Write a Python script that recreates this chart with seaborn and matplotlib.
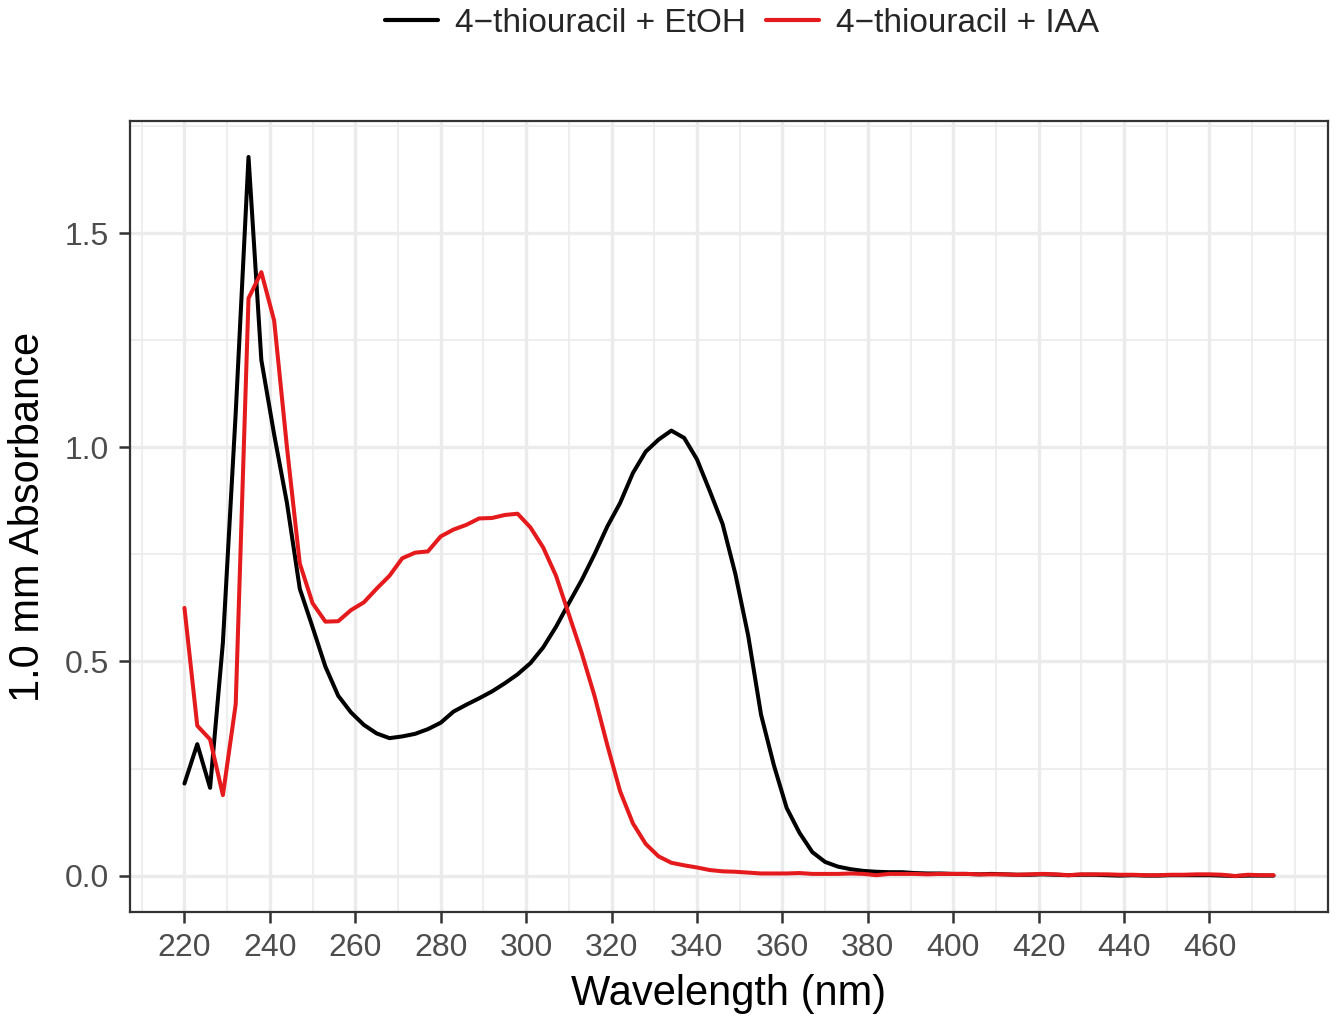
import numpy as np
import pandas as pd
import matplotlib
matplotlib.use("Agg")
import matplotlib.pyplot as plt
import seaborn as sns
from matplotlib.lines import Line2D
from matplotlib.ticker import MultipleLocator, FixedLocator

# wavelength grid (nm), 3 nm steps
wavelength = [220, 223, 226, 229, 232, 235, 238, 241, 244, 247,
              250, 253, 256, 259, 262, 265, 268, 271, 274, 277,
              280, 283, 286, 289, 292, 295, 298, 301, 304, 307,
              310, 313, 316, 319, 322, 325, 328, 331, 334, 337,
              340, 343, 346, 349, 352, 355, 358, 361, 364, 367,
              370, 373, 376, 379, 382, 385, 388, 391, 394, 397,
              400, 403, 406, 409, 412, 415, 418, 421, 424, 427,
              430, 433, 436, 439, 442, 445, 448, 451, 454, 457,
              460, 463, 466, 469, 472, 475]

# 4-thiouracil + EtOH
etoh = [0.215, 0.307, 0.205, 0.544, 1.08, 1.678, 1.204, 1.03, 0.87, 0.67,
        0.58, 0.488, 0.42, 0.381, 0.352, 0.332, 0.321, 0.325, 0.331, 0.342,
        0.357, 0.383, 0.399, 0.414, 0.43, 0.449, 0.47, 0.496, 0.533, 0.581,
        0.636, 0.69, 0.75, 0.815, 0.87, 0.94, 0.99, 1.018, 1.039, 1.022,
        0.972, 0.898, 0.821, 0.704, 0.56, 0.376, 0.258, 0.158, 0.1, 0.055,
        0.032, 0.021, 0.015, 0.011, 0.009, 0.008, 0.008, 0.006, 0.005, 0.005,
        0.004, 0.004, 0.003, 0.004, 0.003, 0.002, 0.002, 0.003, 0.002, 0.001,
        0.002, 0.002, 0.001, 0.0, 0.001, 0.0, 0.0, 0.001, 0.001, 0.001,
        0.001, 0.0, -0.001, 0.0, 0.0, 0.0]

# 4-thiouracil + IAA
iaa = [0.625, 0.35, 0.318, 0.188, 0.40, 1.348, 1.409, 1.296, 1.0, 0.729,
       0.636, 0.593, 0.594, 0.62, 0.638, 0.67, 0.70, 0.741, 0.754, 0.757,
       0.792, 0.808, 0.819, 0.834, 0.835, 0.842, 0.845, 0.813, 0.766, 0.70,
       0.61, 0.52, 0.42, 0.305, 0.197, 0.122, 0.074, 0.045, 0.03, 0.024,
       0.019, 0.013, 0.01, 0.009, 0.007, 0.005, 0.005, 0.005, 0.006, 0.004,
       0.004, 0.004, 0.005, 0.004, 0.001, 0.004, 0.004, 0.004, 0.003, 0.004,
       0.004, 0.004, 0.003, 0.003, 0.003, 0.002, 0.003, 0.004, 0.003, 0.001,
       0.003, 0.003, 0.003, 0.002, 0.002, 0.001, 0.001, 0.002, 0.002, 0.003,
       0.003, 0.002, -0.001, 0.002, 0.001, 0.001]

labels = ["4\u2212thiouracil + EtOH", "4\u2212thiouracil + IAA"]
colors = ["#000000", "#E41A1C"]
x_breaks = [220, 240, 260, 280, 300, 320, 340, 360, 380, 400, 420, 440, 460]

df = pd.concat([
    pd.DataFrame({"wl": wavelength, "abs": etoh, "sample": labels[0]}),
    pd.DataFrame({"wl": wavelength, "abs": iaa, "sample": labels[1]}),
], ignore_index=True)

sns.set_theme(style="white")
plt.rcParams["font.family"] = ["Liberation Sans", "DejaVu Sans"]

fig = plt.figure(figsize=(13.37, 10.17), dpi=100)
ax = fig.add_axes([130 / 1337, 1 - 912 / 1017, (1328 - 130) / 1337, (912 - 121) / 1017])

sns.lineplot(data=df, x="wl", y="abs", hue="sample", palette=colors,
             linewidth=2.9, ax=ax, legend=False, sort=False)

# ggplot-like expansion (5%)
xmin, xmax = min(wavelength), max(wavelength)
ymin, ymax = df["abs"].min(), df["abs"].max()
ax.set_xlim(xmin - 0.05 * (xmax - xmin), xmax + 0.05 * (xmax - xmin))
ax.set_ylim(ymin - 0.05 * (ymax - ymin), ymax + 0.05 * (ymax - ymin))

ax.xaxis.set_major_locator(FixedLocator(x_breaks))
ax.xaxis.set_minor_locator(MultipleLocator(10))
ax.yaxis.set_major_locator(FixedLocator([0.0, 0.5, 1.0, 1.5]))
ax.yaxis.set_minor_locator(MultipleLocator(0.25))
ax.set_yticklabels(["0.0", "0.5", "1.0", "1.5"])

ax.grid(True, which="major", color="#EBEBEB", linewidth=2.4)
ax.grid(True, which="minor", color="#EBEBEB", linewidth=1.2)
ax.set_axisbelow(True)
for s in ax.spines.values():
    s.set_color("#333333")
    s.set_linewidth(1.6)

ax.tick_params(which="major", length=8, width=1.8, color="#333333",
               labelsize=23, labelcolor="#4D4D4D", pad=7, direction="out",
               bottom=True, left=True)
ax.tick_params(which="minor", length=0)

ax.set_xlabel("Wavelength (nm)", fontsize=30, color="black", labelpad=8)
ax.set_ylabel("1.0 mm Absorbance", fontsize=30, color="black", labelpad=12)

handles = [Line2D([0], [0], color=c, linewidth=3.0) for c in colors]
fig.legend(handles, labels, loc="center", bbox_to_anchor=(0.555, 0.977),
           ncol=2, frameon=False, fontsize=24, handlelength=1.6,
           handletextpad=0.5, columnspacing=0.6)

fig.savefig("out.png", dpi=100, facecolor="white")
